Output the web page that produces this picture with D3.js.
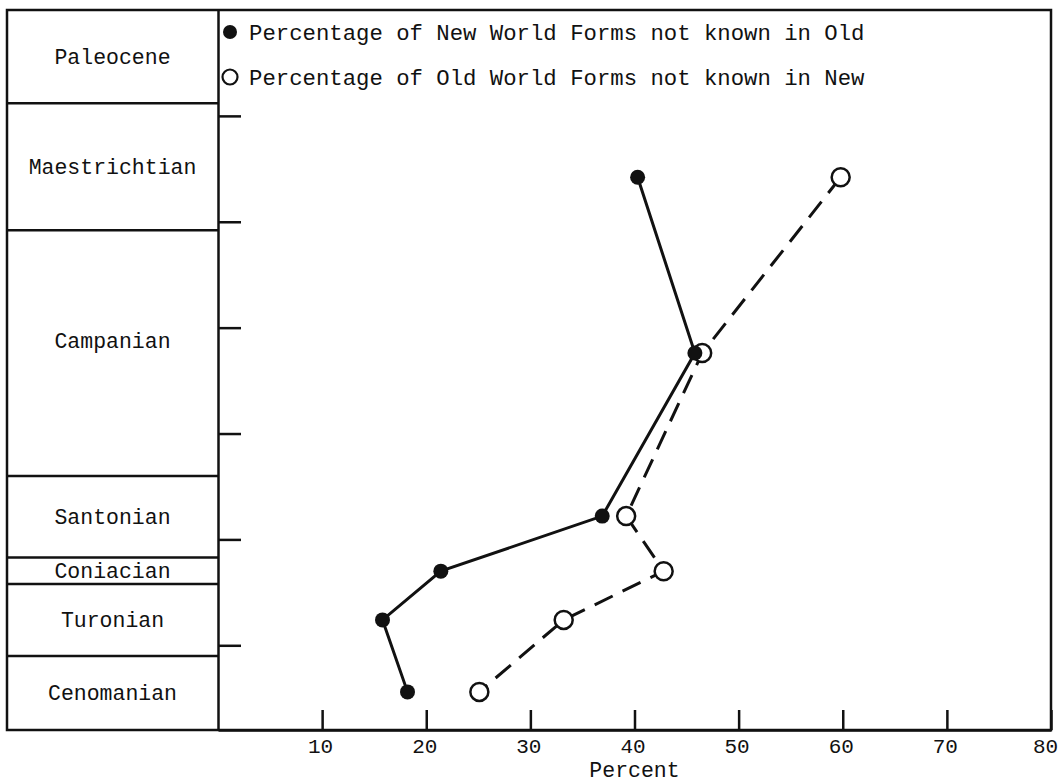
<!DOCTYPE html>
<html>
<head>
<meta charset="utf-8">
<script src="https://cdn.jsdelivr.net/npm/d3@7"></script>
<style>
    body { margin: 0; background: #fff; }
    #chart-area { width: 1062px; height: 782px; }
    text { font-family: "Liberation Mono", "DejaVu Sans Mono", monospace; fill: #111; }
    .stage-label { font-size: 21.5px; }
    .legend-text { font-size: 22.3px; }
    .x-axis text { font-size: 21px; }
    .axis-label { font-size: 21.5px; }
</style>
</head>
<body>
<div id="chart-area"></div>
<script>
// Stages of the left column, top to bottom, and their boundaries (Ma)
const stageNames = ["Paleocene", "Maestrichtian", "Campanian", "Santonian", "Coniacian", "Turonian", "Cenomanian"];
const stageBounds = [60, 64.4, 70.4, 82.0, 85.85, 87.1, 90.5, 94];

// Sample ages (Ma) for the plotted stages
const pointAges = [67.9, 76.2, 83.9, 86.5, 88.8, 92.2];

// Percentages
const newWorldPct = [40.3, 45.8, 36.9, 21.4, 15.8, 18.2];
const oldWorldPct = [59.8, 46.5, 39.2, 42.8, 33.2, 25.1];

// Axis ticks
const percentTicks = [10, 20, 30, 40, 50, 60, 70, 80];
const ageTicks = [65, 70, 75, 80, 85, 90];

const legendLabels = [
    "Percentage of New World Forms not known in Old",
    "Percentage of Old World Forms not known in New"
];

class RangeChart {
    constructor(parentElement) {
        this.parentElement = parentElement;
        this.initVis();
    }

    initVis() {
        let vis = this;

        vis.left = 7;          // outer frame left edge
        vis.plotLeft = 218;    // right edge of stage column / plot left
        vis.plotRight = 1051;
        vis.top = 10;
        vis.bottom = 730;

        vis.svg = d3.select("#" + vis.parentElement)
            .append("svg")
            .attr("width", 1062)
            .attr("height", 782);

        // Scales
        vis.x = d3.scaleLinear().domain([0, 80]).range([vis.plotLeft, vis.plotRight]);
        vis.y = d3.scaleLinear().domain([stageBounds[0], stageBounds[stageBounds.length - 1]]).range([vis.top, vis.bottom]);

        // Outer frame
        vis.svg.append("rect")
            .attr("x", vis.left)
            .attr("y", vis.top)
            .attr("width", vis.plotRight - vis.left)
            .attr("height", vis.bottom - vis.top)
            .attr("fill", "none")
            .attr("stroke", "#111")
            .attr("stroke-width", 2.5);

        // Stage boxes
        let stageData = stageNames.map((name, i) => ({ name: name, top: stageBounds[i], bottom: stageBounds[i + 1] }));

        vis.svg.selectAll(".stage-line")
            .data(stageBounds.slice(1, -1))
            .enter().append("line")
            .attr("class", "stage-line")
            .attr("x1", vis.left).attr("x2", vis.plotLeft)
            .attr("y1", d => vis.y(d)).attr("y2", d => vis.y(d))
            .attr("stroke", "#111")
            .attr("stroke-width", 2.5);

        vis.svg.selectAll(".stage-label")
            .data(stageData)
            .enter().append("text")
            .attr("class", "stage-label")
            .attr("x", (vis.left + vis.plotLeft) / 2)
            .attr("y", d => vis.y((d.top + d.bottom) / 2))
            .attr("dy", d => d.name === "Campanian" ? "-0.25em" : "0.35em")
            .attr("text-anchor", "middle")
            .text(d => d.name);

        // Age ticks on the left of the plot
        vis.yAxis = d3.axisRight(vis.y).tickValues(ageTicks).tickSize(23).tickSizeOuter(0).tickFormat("");
        vis.svg.append("g")
            .attr("class", "y-axis")
            .attr("transform", `translate(${vis.plotLeft},0)`)
            .call(vis.yAxis)
            .call(g => g.selectAll("line, path").attr("stroke", "#111").attr("stroke-width", 2.5));

        // Percent axis, ticks pointing up
        vis.xAxis = d3.axisBottom(vis.x).tickValues(percentTicks).tickSize(-20).tickSizeOuter(0).tickPadding(8);
        vis.svg.append("g")
            .attr("class", "x-axis")
            .attr("transform", `translate(0,${vis.bottom})`)
            .call(vis.xAxis)
            .call(g => g.selectAll("line, path").attr("stroke", "#111").attr("stroke-width", 2.5))
            .call(g => g.selectAll("text")
                .attr("font-size", null).attr("font-family", null)
                .attr("dx", d => d === 80 ? -6 : -2));

        vis.svg.append("text")
            .attr("class", "axis-label")
            .attr("x", vis.x(40))
            .attr("y", 777)
            .attr("text-anchor", "middle")
            .text("Percent");

        // Legend
        vis.legend = vis.svg.append("g").attr("class", "legend");
        vis.legend.selectAll("circle")
            .data(legendLabels)
            .enter().append("circle")
            .attr("cx", 230)
            .attr("cy", (d, i) => 32 + i * 45)
            .attr("r", (d, i) => i === 0 ? 7 : 7.5)
            .attr("fill", (d, i) => i === 0 ? "#111" : "#fff")
            .attr("stroke", "#111")
            .attr("stroke-width", (d, i) => i === 0 ? 0 : 2.2);
        vis.legend.selectAll("text")
            .data(legendLabels)
            .enter().append("text")
            .attr("class", "legend-text")
            .attr("x", 249)
            .attr("y", (d, i) => 32 + i * 45)
            .attr("dy", "0.35em")
            .text(d => d);

        vis.updateVis();
    }

    updateVis() {
        let vis = this;

        vis.line = d3.line()
            .x(d => vis.x(d.pct))
            .y(d => vis.y(d.age));

        let oldData = pointAges.map((a, i) => ({ age: a, pct: oldWorldPct[i] }));
        let newData = pointAges.map((a, i) => ({ age: a, pct: newWorldPct[i] }));

        // Old World series (dashed, open circles) drawn first
        vis.svg.append("path")
            .datum(oldData)
            .attr("class", "line old")
            .attr("fill", "none")
            .attr("stroke", "#111")
            .attr("stroke-width", 3)
            .attr("stroke-dasharray", "20,11")
            .attr("d", vis.line);

        vis.svg.selectAll(".dot-old")
            .data(oldData)
            .enter().append("circle")
            .attr("class", "dot-old")
            .attr("cx", d => vis.x(d.pct))
            .attr("cy", d => vis.y(d.age))
            .attr("r", 9)
            .attr("fill", "#fff")
            .attr("stroke", "#111")
            .attr("stroke-width", 2.5);

        // New World series (solid, filled circles)
        vis.svg.append("path")
            .datum(newData)
            .attr("class", "line new")
            .attr("fill", "none")
            .attr("stroke", "#111")
            .attr("stroke-width", 3)
            .attr("d", vis.line);

        vis.svg.selectAll(".dot-new")
            .data(newData)
            .enter().append("circle")
            .attr("class", "dot-new")
            .attr("cx", d => vis.x(d.pct))
            .attr("cy", d => vis.y(d.age))
            .attr("r", 7.5)
            .attr("fill", "#111");
    }
}

new RangeChart("chart-area");
</script>
</body>
</html>
